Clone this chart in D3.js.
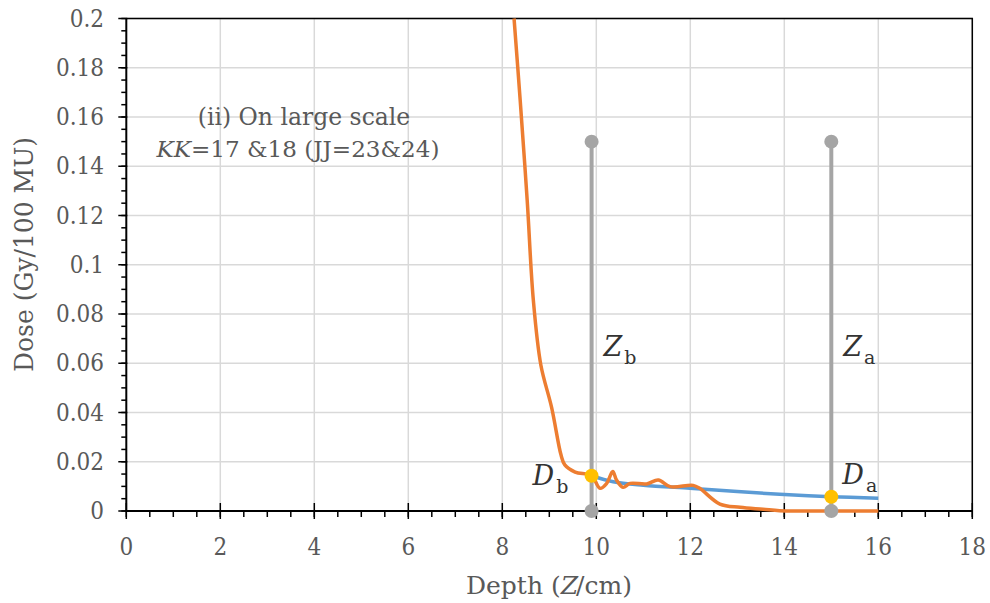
<!DOCTYPE html>
<html><head><meta charset="utf-8">
<script src="https://cdn.jsdelivr.net/npm/d3@7"></script>
<style>body{margin:0;background:#fff}svg{display:block}text{font-family:"DejaVu Serif","Liberation Serif",serif}
.cond{font-family:"DejaVu Serif Condensed","DejaVu Serif",serif;font-stretch:condensed}</style>
</head><body><svg id="c" width="990" height="603"></svg>
<script>
const xTicks = [0,2,4,6,8,10,12,14,16,18];
const yTicks = [0,0.02,0.04,0.06,0.08,0.1,0.12,0.14,0.16,0.18,0.2];
const orangeDepth = [8.25,8.38,8.53,8.66,8.82,9.05,9.25,9.33,9.55,9.9,10.08,10.22,10.35,10.43,10.57,10.72,11.07,11.32,11.57,12.06,12.2,12.63,13.06,13.55,13.9,14.5,15,16];
const orangeDose  = [0.2,0.167,0.126,0.0857,0.0593,0.042,0.0227,0.0187,0.0158,0.0143,0.0092,0.0112,0.016,0.0126,0.0096,0.0112,0.011,0.0126,0.0099,0.0104,0.0092,0.0028,0.0015,0.0007,0.0001,0,0,0];
const blueDepth = [9.9,10.36,11.0,11.99,13.0,13.9,15,16];
const blueDose  = [0.0143,0.0119,0.0105,0.0092,0.0079,0.0068,0.0058,0.0052];
const stemDepth = [9.9,15];
const stemTop = 0.15;
const markDose = [0.0143,0.0058];
const stemLabels = ["b","a"];

const svg = d3.select("#c");
const L=126.3,R=972.3,T=18.5,B=511;
const x = d3.scaleLinear().domain([0,18]).range([L,R]);
const y = d3.scaleLinear().domain([0,0.2]).range([B,T]);
const gray="#595959";

// grid
svg.append("g").selectAll("line").data(xTicks.slice(1)).join("line")
  .attr("x1",d=>x(d)).attr("x2",d=>x(d)).attr("y1",T).attr("y2",B)
  .attr("stroke","#d9d9d9").attr("stroke-width",1.5);
svg.append("g").selectAll("line").data(yTicks.slice(1)).join("line")
  .attr("x1",L).attr("x2",R).attr("y1",d=>y(d)).attr("y2",d=>y(d))
  .attr("stroke","#d9d9d9").attr("stroke-width",1.5);
svg.append("path").attr("d",`M${L},${T}H${R}V${B}`).attr("fill","none").attr("stroke","#000").attr("stroke-width",1.5);

// axes
const xMinor = d3.range(0,18.01,0.5);
const yMinor = d3.range(0,0.2001,0.005);
svg.append("g").selectAll("line").data(xMinor).join("line")
  .attr("x1",d=>x(d)).attr("x2",d=>x(d)).attr("y1",B).attr("y2",B+6).attr("stroke","#000").attr("stroke-width",1.5);
svg.append("g").selectAll("line").data(xTicks).join("line")
  .attr("x1",d=>x(d)).attr("x2",d=>x(d)).attr("y1",B-8).attr("y2",B+8).attr("stroke","#000").attr("stroke-width",1.5);
svg.append("g").selectAll("line").data(yMinor).join("line")
  .attr("x1",L-5).attr("x2",L).attr("y1",d=>y(d)).attr("y2",d=>y(d)).attr("stroke","#000").attr("stroke-width",1.5);
svg.append("g").selectAll("line").data(yTicks).join("line")
  .attr("x1",L-8).attr("x2",L+1).attr("y1",d=>y(d)).attr("y2",d=>y(d)).attr("stroke","#000").attr("stroke-width",1.5);
svg.append("line").attr("x1",L).attr("x2",R).attr("y1",B).attr("y2",B).attr("stroke","#000").attr("stroke-width",2);
svg.append("line").attr("x1",L).attr("x2",L).attr("y1",T).attr("y2",B).attr("stroke","#000").attr("stroke-width",2);

svg.append("g").selectAll("text").data(xTicks).join("text").attr("class","cond")
  .attr("x",d=>x(d)).attr("y",555).attr("text-anchor","middle").attr("fill",gray).attr("font-size",24).text(d=>d);
svg.append("g").selectAll("text").data(yTicks).join("text").attr("class","cond")
  .attr("x",104).attr("y",d=>y(d)+8).attr("text-anchor","end").attr("fill",gray).attr("font-size",24).text(d=>d);

// titles
svg.append("text").attr("transform","translate(33,254.5) rotate(-90)").attr("text-anchor","middle").attr("fill",gray).attr("font-size",26)
  .attr("textLength",235).attr("lengthAdjust","spacingAndGlyphs").text("Dose (Gy/100 MU)");
const xt = svg.append("text").attr("x",549).attr("y",594).attr("text-anchor","middle").attr("fill",gray).attr("font-size",25);
xt.append("tspan").text("Depth (");
xt.append("tspan").attr("font-style","italic").text("Z");
xt.append("tspan").attr("dx",-2).text("/cm)");

// annotation
svg.append("text").attr("x",304).attr("y",125).attr("text-anchor","middle").attr("fill",gray).attr("font-size",23.5).text("(ii) On large scale");
const an = svg.append("text").attr("x",298).attr("y",157).attr("text-anchor","middle").attr("fill",gray).attr("font-size",23).attr("textLength",283).attr("lengthAdjust","spacingAndGlyphs");
an.append("tspan").attr("font-style","italic").text("KK");
an.append("tspan").text("=17 &18 (JJ=23&24)");

// stems
svg.append("g").selectAll("line").data(stemDepth).join("line")
  .attr("x1",d=>x(d)).attr("x2",d=>x(d)).attr("y1",y(stemTop)).attr("y2",y(0))
  .attr("stroke","#a5a5a5").attr("stroke-width",4);

// curves
const line = d3.line().curve(d3.curveCatmullRom.alpha(0.5));
svg.append("path").attr("d",line(blueDepth.map((d,i)=>[x(d),y(blueDose[i])])))
  .attr("fill","none").attr("stroke","#5b9bd5").attr("stroke-width",3.5);
svg.append("path").attr("d",line(orangeDepth.map((d,i)=>[x(d),y(orangeDose[i])])))
  .attr("fill","none").attr("stroke","#ed7d31").attr("stroke-width",3.5).attr("stroke-linejoin","round");

// dots
svg.append("g").selectAll("circle").data(stemDepth).join("circle")
  .attr("cx",d=>x(d)).attr("cy",y(stemTop)).attr("r",7).attr("fill","#a5a5a5");
svg.append("g").selectAll("circle").data(stemDepth).join("circle")
  .attr("cx",d=>x(d)).attr("cy",y(0)).attr("r",7).attr("fill","#a5a5a5");
svg.append("g").selectAll("circle").data(stemDepth).join("circle")
  .attr("cx",d=>x(d)).attr("cy",(d,i)=>y(markDose[i])).attr("r",7).attr("fill","#ffc000");

// labels Z and D
function lab(px,py,main,sub){
  const t = svg.append("text").attr("x",px).attr("y",py).attr("fill","#333").attr("font-size",27);
  t.append("tspan").attr("font-style","italic").text(main);
  t.append("tspan").attr("dx",2).attr("dy",8).attr("font-size",19).text(sub);
}
stemDepth.forEach((d,i)=>{
  lab(x(d)+12,356,"Z",stemLabels[i]);
});
lab(x(stemDepth[0])-59,485,"D",stemLabels[0]);
lab(x(stemDepth[1])+11,484,"D",stemLabels[1]);
</script></body></html>
